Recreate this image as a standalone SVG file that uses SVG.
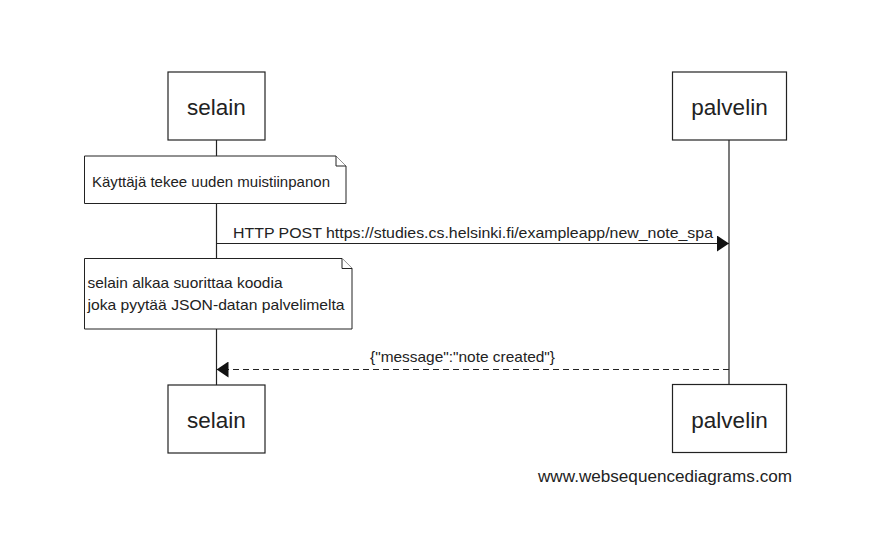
<svg xmlns="http://www.w3.org/2000/svg" width="889" height="539" viewBox="0 0 889 539">
<style>
text{font-family:"Liberation Sans",Arial,sans-serif;fill:#222}
.actor{fill:#fff;stroke:#222;stroke-width:1.2}
.actor-t{font-size:22.5px;text-anchor:middle}
.note{fill:#fff;stroke:#222;stroke-width:1}
.note-t{font-size:15px}
.msg-t{font-size:14.5px}
.life{stroke:#222;stroke-width:1.2;fill:none}
.msg{stroke:#222;stroke-width:1.2;fill:none}
.dash{stroke-dasharray:6 4}
</style>
<defs>
<marker id="ah" viewBox="0 0 12 16" refX="12" refY="8" markerWidth="12" markerHeight="16" markerUnits="userSpaceOnUse" orient="auto">
<path d="M0,0 L12,8 L0,16 Z" fill="#111"/>
</marker>
</defs>
<rect width="889" height="539" fill="#fff"/>
<g id="lifelines">
<line class="life" x1="216.5" y1="140" x2="216.5" y2="385"/>
<line class="life" x1="729" y1="140" x2="729" y2="384"/>
</g>
<g id="selain-top">
<rect class="actor" x="168" y="72" width="97" height="68"/>
<text class="actor-t" x="216.5" y="115">selain</text>
</g>
<g id="palvelin-top">
<rect class="actor" x="672.5" y="72" width="114" height="68"/>
<text class="actor-t" x="729.5" y="115">palvelin</text>
</g>
<g id="note1">
<path class="note" d="M84.5,156 L336,156 L346,166 L346,203.5 L84.5,203.5 Z"/>
<path class="note" d="M336,156 L336,166 L346,166"/>
<text class="note-t" x="92" y="187" textLength="238" lengthAdjust="spacingAndGlyphs">Käyttäjä tekee uuden muistiinpanon</text>
</g>
<g id="note2">
<path class="note" d="M84.5,258.5 L342,258.5 L352,268.5 L352,329 L84.5,329 Z"/>
<path class="note" d="M342,258.5 L342,268.5 L352,268.5"/>
<text class="note-t" x="87.5" y="288" textLength="195" lengthAdjust="spacingAndGlyphs">selain alkaa suorittaa koodia</text>
<text class="note-t" x="87.5" y="310" textLength="257" lengthAdjust="spacingAndGlyphs">joka pyytää JSON-datan palvelimelta</text>
</g>
<g id="connectors">
<line class="msg" x1="216.5" y1="243.5" x2="729" y2="243.5" marker-end="url(#ah)"/>
<text class="msg-t" x="233" y="238" textLength="480" lengthAdjust="spacingAndGlyphs">HTTP POST https://studies.cs.helsinki.fi/exampleapp/new_note_spa</text>
<line class="msg dash" x1="729" y1="369.5" x2="216.5" y2="369.5" marker-end="url(#ah)"/>
<text class="msg-t" x="370" y="362" textLength="185" lengthAdjust="spacingAndGlyphs">{"message":"note created"}</text>
</g>
<g id="selain-bottom">
<rect class="actor" x="168" y="385" width="97" height="68"/>
<text class="actor-t" x="216.5" y="428">selain</text>
</g>
<g id="palvelin-bottom">
<rect class="actor" x="672.5" y="384.5" width="114" height="68"/>
<text class="actor-t" x="729.5" y="427.5">palvelin</text>
</g>
<text x="538" y="482" style="font-size:16px" textLength="254" lengthAdjust="spacingAndGlyphs">www.websequencediagrams.com</text>
</svg>
